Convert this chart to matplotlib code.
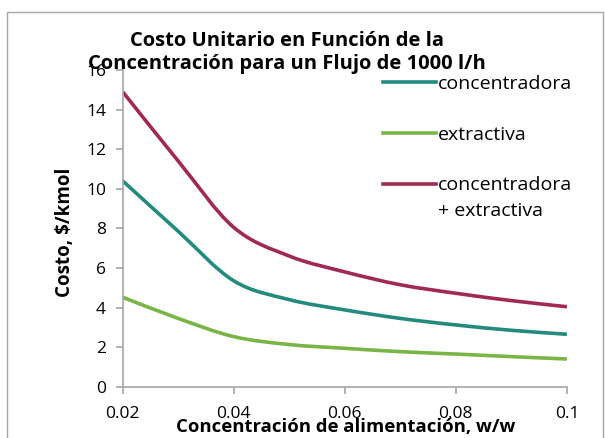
import numpy as np
import matplotlib
matplotlib.use("Agg")
import matplotlib.pyplot as plt
from matplotlib.path import Path
from matplotlib.patches import PathPatch, Rectangle
from matplotlib.lines import Line2D

# Values
conc = [0.02, 0.03, 0.04, 0.05, 0.06, 0.07, 0.08, 0.09, 0.1]
costo_concentradora = [10.4, 7.85, 5.35, 4.4, 3.88, 3.45, 3.12, 2.85, 2.65]
costo_extractiva = [4.52, 3.45, 2.53, 2.13, 1.94, 1.77, 1.65, 1.52, 1.40]
costo_total = [14.9, 11.4, 8.05, 6.6, 5.8, 5.15, 4.72, 4.35, 4.04]

series_names = ["concentradora", "extractiva", "concentradora"]
colors = ["#238a7e", "#7ab547", "#a02a55"]

xticks = [0.02, 0.04, 0.06, 0.08, 0.1]
xtick_labels = ["0.02", "0.04", "0.06", "0.08", "0.1"]
yticks = [0, 2, 4, 6, 8, 10, 12, 14, 16]

plt.rcParams['font.family'] = ['Open Sans', 'DejaVu Sans']


def smooth_path(x, y):
    """Excel-like smoothed line: Catmull-Rom segments as cubic Bezier curves."""
    pts = np.column_stack([x, y])
    ext = np.vstack([pts[0], pts, pts[-1]])
    verts = [pts[0]]
    codes = [Path.MOVETO]
    for i in range(len(pts) - 1):
        p0, p1, p2, p3 = ext[i], ext[i + 1], ext[i + 2], ext[i + 3]
        verts += [p1 + (p2 - p0) / 6, p2 - (p3 - p1) / 6, p2]
        codes += [Path.CURVE4] * 3
    return Path(verts, codes)


fig = plt.figure(figsize=(6.05, 4.38), dpi=100)
ax = fig.add_axes([0.2028, 0.1171, 0.7342, 0.7231])

# outer chart border
fig.patches.append(Rectangle((7 / 605, -0.1), 596 / 605, 1 - 12 / 438 + 0.1,
                             transform=fig.transFigure, fill=False,
                             edgecolor="#a6a6a6", linewidth=1.0))

for vals, c in zip([costo_concentradora, costo_extractiva, costo_total], colors):
    ax.add_patch(PathPatch(smooth_path(conc, vals), facecolor="none",
                           edgecolor=c, linewidth=2.6, capstyle="butt"))

ax.set_xlim(0.02, 0.1)
ax.set_ylim(0, 16)
ax.set_xticks(xticks)
ax.set_xticklabels(xtick_labels)
ax.set_yticks(yticks)

for s in ["top", "right"]:
    ax.spines[s].set_visible(False)
for s in ["left", "bottom"]:
    ax.spines[s].set_color("#a6a6a6")
    ax.spines[s].set_linewidth(1.2)
ax.tick_params(axis="both", colors="#a6a6a6", labelcolor="black",
               labelsize=12.5, width=1.2)
ax.tick_params(axis="x", length=5, pad=9)
ax.tick_params(axis="y", length=5, pad=7)

ax.set_xlabel("Concentración de alimentación, w/w", fontsize=13.3,
              fontweight="bold", va="center")
ax.xaxis.set_label_coords(0.503, -0.127)
ax.set_ylabel("Costo, $/kmol", fontsize=13.5, fontweight="bold",
              va="center", ha="center")
ax.yaxis.set_label_coords(-0.130, 0.487)

fig.text(0.475, 1 - 52 / 438,
         "Costo Unitario en Función de la\nConcentración para un Flujo de 1000 l/h",
         ha="center", va="center", fontsize=14.5, fontweight="bold",
         linespacing=1.2)

handles = [Line2D([], [], color=c, linewidth=2.6) for c in colors]
ax.legend(handles, series_names, loc="upper left",
          bbox_to_anchor=(383 / 605, 1 - 75 / 438), bbox_transform=fig.transFigure,
          frameon=False, fontsize=14, handlelength=2.7, handletextpad=0.1,
          labelspacing=1.68, borderpad=0, borderaxespad=0)
fig.text(438 / 605, 1 - 211 / 438, "+ extractiva", fontsize=14,
         ha="left", va="center")

fig.savefig("out.png", dpi=100)
